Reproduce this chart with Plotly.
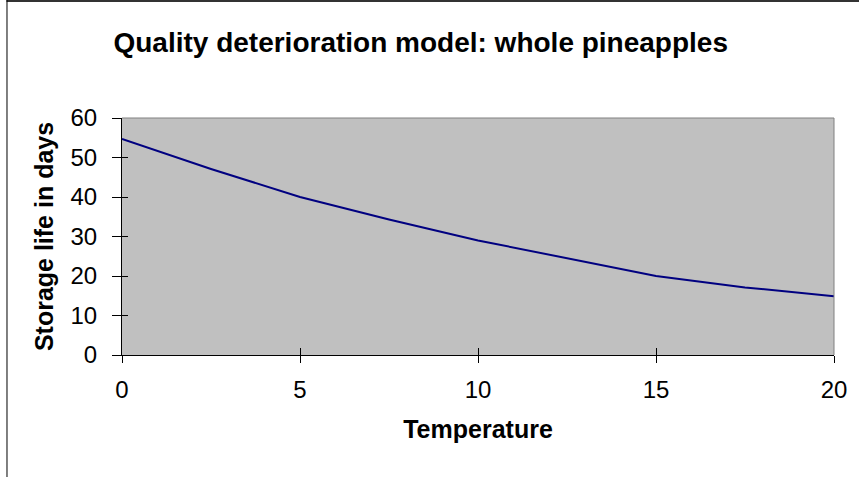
import plotly.graph_objects as go

temperature = [0, 2.5, 5, 7.5, 10, 12.5, 15, 17.5, 20]
storage_days = [54.7, 47.1, 40.0, 34.3, 29.0, 24.5, 20.0, 17.1, 14.9]
x_ticks = [0, 5, 10, 15, 20]
y_ticks = [0, 10, 20, 30, 40, 50, 60]

W, H = 859, 477
L, R, T, B = 122, 22, 118, 122
pw = W - L - R
ph = H - T - B

font_fam = "Liberation Sans, Arial, sans-serif"

fig = go.Figure()
fig.add_trace(go.Scatter(x=temperature, y=storage_days, mode="lines",
                         line=dict(color="#000080", width=2), hoverinfo="skip",
                         showlegend=False))
# invisible trace for overlay axes (inner tick marks)
fig.add_trace(go.Scatter(x=temperature, y=storage_days, mode="lines",
                         xaxis="x2", yaxis="y2", opacity=0, hoverinfo="skip",
                         showlegend=False))

def px2px(xp):
    return (xp - L) / pw

def py2py(yp):
    return (H - B - yp) / ph

fig.update_layout(
    width=W, height=H,
    margin=dict(l=L, r=R, t=T, b=B, pad=0),
    paper_bgcolor="white",
    plot_bgcolor="#C0C0C0",
    font=dict(family=font_fam, color="black"),
    title=dict(text="<b>Quality deterioration model: whole pineapples</b>",
               font=dict(size=28, family=font_fam, color="black"),
               x=px2px(422), xref="paper", xanchor="center",
               y=1 - 42 / H, yref="container", yanchor="middle"),
    xaxis=dict(range=[0, 20], tickvals=x_ticks, ticks="outside", ticklen=7,
               tickcolor="black", tickwidth=1, showgrid=False, zeroline=False,
               showline=True, linecolor="black", linewidth=1,
               tickfont=dict(size=24), ticklabelstandoff=6,
               title=dict(text="<b>Temperature</b>", font=dict(size=25), standoff=18)),
    yaxis=dict(range=[0, 60], tickvals=y_ticks, ticks="outside", ticklen=9,
               tickcolor="black", tickwidth=1, showgrid=False, zeroline=False,
               showline=True, linecolor="black", linewidth=1,
               tickfont=dict(size=24), ticklabelstandoff=10,
               title=dict(text="<b>Storage life in days</b>", font=dict(size=25), standoff=9)),
    xaxis2=dict(range=[0, 20], tickvals=x_ticks, ticks="inside", ticklen=7,
                tickcolor="black", overlaying="x", anchor="y", side="bottom",
                showticklabels=False, showgrid=False, zeroline=False, showline=False),
    yaxis2=dict(range=[0, 60], tickvals=y_ticks, ticks="inside", ticklen=6,
                tickcolor="black", overlaying="y", anchor="x", side="left",
                showticklabels=False, showgrid=False, zeroline=False, showline=False),
    shapes=[
        dict(type="line", xref="paper", yref="paper", x0=0, x1=1, y0=1, y1=1,
             line=dict(color="#808080", width=1)),
        dict(type="line", xref="paper", yref="paper", x0=1, x1=1, y0=0, y1=1,
             line=dict(color="#808080", width=1)),
        dict(type="line", xref="paper", yref="paper",
             x0=px2px(6), x1=px2px(870), y0=py2py(1), y1=py2py(1),
             line=dict(color="#333333", width=2)),
        dict(type="line", xref="paper", yref="paper",
             x0=px2px(6.5), x1=px2px(6.5), y0=py2py(0), y1=py2py(490),
             line=dict(color="black", width=1)),
    ],
)

fig.write_html("out.html")
